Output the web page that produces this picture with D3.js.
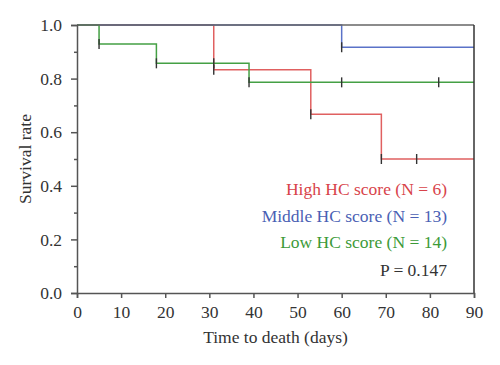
<!DOCTYPE html>
<html>
<head>
<meta charset="utf-8">
<script src="https://cdn.jsdelivr.net/npm/d3@7"></script>
<style>
  body { margin: 0; background: #fff; }
  svg { font-family: "Liberation Serif", "DejaVu Serif", serif; }
</style>
</head>
<body>
<svg id="chart" width="500" height="365"></svg>
<script>
// Kaplan-Meier step points (time, survival)
const highTimes = [0, 31, 53, 69, 90];
const highSurv = [1.0, 0.833, 0.667, 0.5, 0.5];
const highCensor = [31, 53, 69, 77];

const middleTimes = [0, 60, 90];
const middleSurv = [1.0, 0.917, 0.917];
const middleCensor = [60];

const lowTimes = [0, 5, 18, 39, 90];
const lowSurv = [1.0, 0.929, 0.857, 0.786, 0.786];
const lowCensor = [5, 18, 31, 39, 60, 82];

const legendLabels = ['High HC score (N = 6)', 'Middle HC score (N = 13)', 'Low HC score (N = 14)'];
const pLabel = 'P = 0.147';
const xTicks = [0, 10, 20, 30, 40, 50, 60, 70, 80, 90];
const yTicks = [0, 0.2, 0.4, 0.6, 0.8, 1.0];
const yMinorTicks = [0.1, 0.3, 0.5, 0.7, 0.9];

const series = [
    { name: legendLabels[0], times: highTimes, surv: highSurv, censor: highCensor, color: '#e06060', text: '#d8434a' },
    { name: legendLabels[1], times: middleTimes, surv: middleSurv, censor: middleCensor, color: '#5a72c8', text: '#4a5fb4' },
    { name: legendLabels[2], times: lowTimes, surv: lowSurv, censor: lowCensor, color: '#44a044', text: '#3c9a38' }
];

const svg = d3.select('#chart');
const margin = { left: 77, top: 25, right: 26, bottom: 72 };
const w = 500 - margin.left - margin.right;
const h = 365 - margin.top - margin.bottom;
const fs = 17.5;

const x = d3.scaleLinear().domain([0, 90]).range([0, w]);
const y = d3.scaleLinear().domain([0, 1]).range([h, 0]);

const g = svg.append('g').attr('transform', `translate(${margin.left},${margin.top})`);

// curves
const line = d3.line()
    .x(d => x(d[0]))
    .y(d => y(d[1]))
    .curve(d3.curveStepAfter);

// survival value at time t (right-continuous)
function survAt(s, t) {
    let v = s.surv[0];
    s.times.forEach((tt, i) => { if (tt <= t) v = s.surv[i]; });
    return v;
}

series.forEach(s => {
    const pts = s.times.map((t, i) => [t, s.surv[i]]);
    g.append('path')
        .datum(pts)
        .attr('fill', 'none')
        .attr('stroke', s.color)
        .attr('stroke-width', 1.5)
        .attr('d', line);
});

// censor marks
series.forEach(s => {
    g.selectAll(null)
        .data(s.censor)
        .enter()
        .append('line')
        .attr('x1', d => x(d)).attr('x2', d => x(d))
        .attr('y1', d => y(survAt(s, d)) - 5)
        .attr('y2', d => y(survAt(s, d)) + 5)
        .attr('stroke', '#333')
        .attr('stroke-width', 1.4);
});

// top and right frame (drawn over the curves)
g.append('line').attr('x1', 0).attr('x2', w).attr('y1', 0).attr('y2', 0)
    .attr('stroke', '#666').attr('stroke-width', 1.5);
g.append('line').attr('x1', w).attr('x2', w).attr('y1', 0).attr('y2', h)
    .attr('stroke', '#333').attr('stroke-width', 1.5);

// axes
g.append('g')
    .attr('transform', `translate(0,${h})`)
    .call(d3.axisBottom(x).tickValues(xTicks).tickSize(5).tickPadding(8).tickFormat(d3.format('d')));
g.append('g')
    .call(d3.axisLeft(y).tickValues(yTicks).tickSize(6).tickPadding(9).tickFormat(d3.format('.1f')));
g.append('g')
    .call(d3.axisLeft(y).tickValues(yMinorTicks).tickSize(3).tickFormat(''))
    .call(a => a.select('.domain').remove());

g.selectAll('.domain').attr('stroke', '#555').attr('stroke-width', 1.5);
g.selectAll('.tick line').attr('stroke', '#555').attr('stroke-width', 1.5);
g.selectAll('.tick text')
    .attr('font-family', '"Liberation Serif", serif')
    .attr('font-size', fs)
    .attr('fill', '#333');

// axis labels
svg.append('text')
    .attr('x', margin.left + w / 2)
    .attr('y', 343)
    .attr('text-anchor', 'middle')
    .attr('font-size', fs)
    .attr('fill', '#333')
    .text('Time to death (days)');

svg.append('text')
    .attr('transform', `translate(31,${margin.top + h / 2}) rotate(-90)`)
    .attr('text-anchor', 'middle')
    .attr('font-size', fs)
    .attr('fill', '#333')
    .text('Survival rate');

// legend
const legendY = [195, 222, 248];
series.forEach((s, i) => {
    svg.append('text')
        .attr('x', 447)
        .attr('y', legendY[i])
        .attr('text-anchor', 'end')
        .attr('font-size', fs)
        .attr('fill', s.text)
        .text(s.name);
});
svg.append('text')
    .attr('x', 447)
    .attr('y', 276)
    .attr('text-anchor', 'end')
    .attr('font-size', fs)
    .attr('fill', '#333')
    .text(pLabel);
</script>
</body>
</html>
